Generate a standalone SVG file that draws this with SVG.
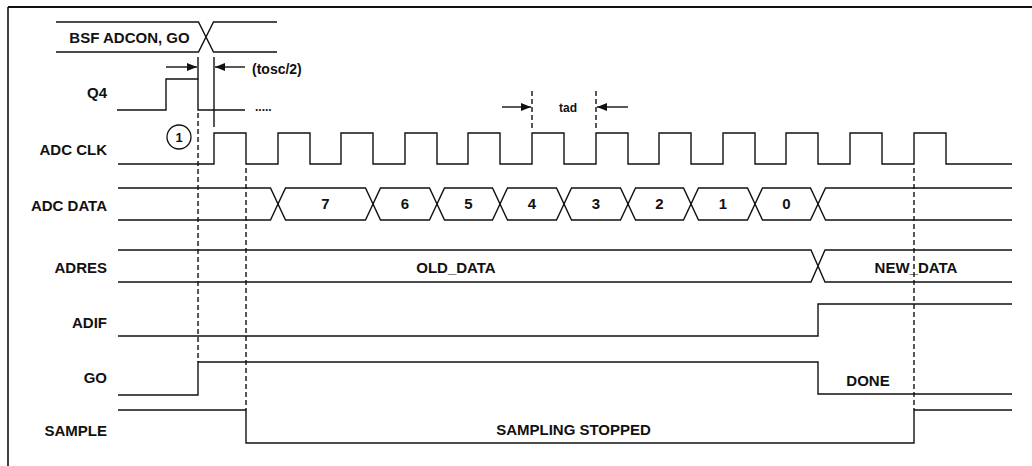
<svg xmlns="http://www.w3.org/2000/svg" width="1032" height="466" viewBox="0 0 1032 466">
<defs>
<style>
.w{fill:none;stroke:#111;stroke-width:1.4;stroke-linejoin:miter}
.d{fill:none;stroke:#111;stroke-width:1.4;stroke-dasharray:5,3}
.t{font-family:"Liberation Sans",Arial,sans-serif;font-weight:bold;font-size:15px;fill:#111}
.l{text-anchor:end}
.m{text-anchor:middle}
</style>
<marker id="ah" viewBox="0 0 10 8" refX="10" refY="4" markerWidth="10" markerHeight="8" markerUnits="userSpaceOnUse" orient="auto">
<path d="M0,0 L10,4 L0,8 Z" fill="#111"/>
</marker>
</defs>
<rect width="1032" height="466" fill="#fff"/>
<g id="frame">
<line x1="8" y1="7" x2="1032" y2="7" stroke="#111" stroke-width="2"/>
<line x1="8" y1="7" x2="8" y2="466" stroke="#111" stroke-width="1.6"/>
</g>
<g id="bsf">
<path class="w" d="M56 22 H198.5 L213.5 52 H277 M56 52 H198.5 L213.5 22 H277"/>
<text class="t m" x="129.5" y="43">BSF ADCON, GO</text>
</g>
<g id="q4">
<text class="t l" x="107" y="98">Q4</text>
<path class="w" d="M117 110 H166 V79 H198 V110 H245"/>
<text class="t" x="255" y="111" style="font-size:12px">.....</text>
</g>
<g id="adcclk">
<text class="t l" x="107" y="155">ADC CLK</text>
<path class="w" d="M118 164 H214 V133 H246 V164 H278 V133 H310 V164 H341 V133 H373 V164 H405 V133 H437 V164 H468 V133 H500 V164 H532 V133 H564 V164 H596 V133 H628 V164 H659 V133 H691 V164 H723 V133 H755 V164 H786 V133 H818 V164 H850 V133 H882 V164 H914 V133 H946 V164 H1012"/>
<circle cx="179" cy="137" r="12" fill="none" stroke="#111" stroke-width="1.3"/>
<text class="t m" x="179" y="142" style="font-size:13px">1</text>
</g>
<g id="adcdata">
<text class="t l" x="107" y="211">ADC DATA</text>
<path class="w" d="M118 188 H270.5 L285.5 220 H365.5 L380.5 188 H429.5 L444.5 220 H492.5 L507.5 188 H556.5 L571.5 220 H620.5 L635.5 188 H683.5 L698.5 220 H747.5 L762.5 188 H810.5 L825.5 220 H1012"/>
<path class="w" d="M118 220 H270.5 L285.5 188 H365.5 L380.5 220 H429.5 L444.5 188 H492.5 L507.5 220 H556.5 L571.5 188 H620.5 L635.5 220 H683.5 L698.5 188 H747.5 L762.5 220 H810.5 L825.5 188 H1012"/>
<text class="t m" x="325.5" y="209">7</text>
<text class="t m" x="405" y="209">6</text>
<text class="t m" x="468.5" y="209">5</text>
<text class="t m" x="532" y="209">4</text>
<text class="t m" x="596" y="209">3</text>
<text class="t m" x="659.5" y="209">2</text>
<text class="t m" x="723" y="209">1</text>
<text class="t m" x="786.5" y="209">0</text>
</g>
<g id="adres">
<text class="t l" x="107" y="273">ADRES</text>
<path class="w" d="M118 250 H811 L825 282 H1012 M118 282 H811 L825 250 H1012"/>
<text class="t m" x="456" y="273">OLD_DATA</text>
<text class="t m" x="916" y="273">NEW_DATA</text>
</g>
<g id="adif">
<text class="t l" x="107" y="328">ADIF</text>
<path class="w" d="M118 336 H818 V304 H1012"/>
</g>
<g id="go">
<text class="t l" x="107" y="383">GO</text>
<path class="w" d="M118 395 H198 V362 H818 V394 H1012"/>
<text class="t m" x="868" y="386">DONE</text>
</g>
<g id="sample">
<text class="t l" x="107" y="436">SAMPLE</text>
<path class="w" d="M118 410 H246 V443 H914 V410 H1012"/>
<text class="t m" x="573.5" y="435">SAMPLING STOPPED</text>
</g>
<g id="connectors">
<line class="w" x1="198" y1="57" x2="198" y2="79"/>
<line class="w" x1="214" y1="57" x2="214" y2="127"/>
<line class="d" x1="198" y1="113" x2="198" y2="362"/>
<line class="d" x1="246" y1="168" x2="246" y2="410"/>
<line class="d" x1="914" y1="168" x2="914" y2="410"/>
<line class="d" x1="532" y1="91" x2="532" y2="129"/>
<line class="d" x1="596" y1="91" x2="596" y2="129"/>
<line class="w" x1="166" y1="67" x2="197" y2="67" marker-end="url(#ah)"/>
<line class="w" x1="245" y1="67" x2="215" y2="67" marker-end="url(#ah)"/>
<line class="w" x1="502" y1="107" x2="531" y2="107" marker-end="url(#ah)"/>
<line class="w" x1="628" y1="107" x2="597" y2="107" marker-end="url(#ah)"/>
<text class="t" x="252" y="74" style="font-size:14px">(tosc/2)</text>
<text class="t m" x="568" y="112" style="font-size:12px">tad</text>
</g>
</svg>
